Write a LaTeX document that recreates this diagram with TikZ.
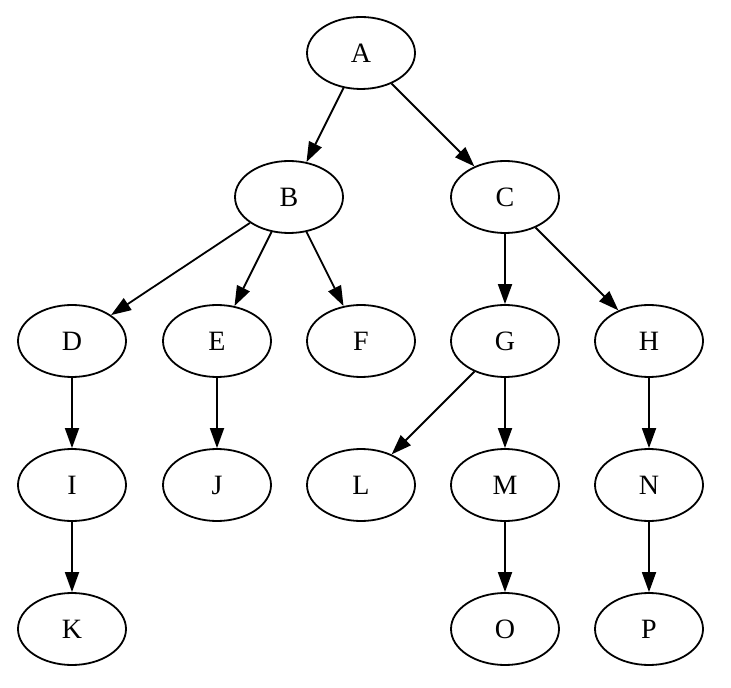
\documentclass[tikz,border=0pt]{standalone}
\usepackage{fontspec}
\setmainfont{Liberation Serif}
\usetikzlibrary{shapes.geometric,arrows.meta}
\begin{document}
\begin{tikzpicture}[x=0.5pt,y=-0.5pt,
  nd/.style={draw,ellipse,line width=0.9pt,minimum width=54pt,minimum height=36pt,inner sep=0pt,font=\fontsize{14pt}{16pt}\selectfont},
  edge/.style={draw,line width=0.9pt,-{Triangle[length=10pt,width=7pt]}}]
\useasboundingbox (0,0) rectangle (731,688);
\node[nd] (A) at (361,53) {A};
\node[nd] (B) at (289,197) {B};
\node[nd] (C) at (505,197) {C};
\node[nd] (D) at (72,341) {D};
\node[nd] (E) at (217,341) {E};
\node[nd] (F) at (361,341) {F};
\node[nd] (G) at (505,341) {G};
\node[nd] (H) at (649,341) {H};
\node[nd] (I) at (72,485) {I};
\node[nd] (J) at (217,485) {J};
\node[nd] (L) at (361,485) {L};
\node[nd] (M) at (505,485) {M};
\node[nd] (N) at (649,485) {N};
\node[nd] (K) at (72,629) {K};
\node[nd] (O) at (505,629) {O};
\node[nd] (P) at (649,629) {P};
\draw[edge] (A) -- (B);
\draw[edge] (A) -- (C);
\draw[edge] (B) -- (D);
\draw[edge] (B) -- (E);
\draw[edge] (B) -- (F);
\draw[edge] (C) -- (G);
\draw[edge] (C) -- (H);
\draw[edge] (D) -- (I);
\draw[edge] (E) -- (J);
\draw[edge] (G) -- (L);
\draw[edge] (G) -- (M);
\draw[edge] (H) -- (N);
\draw[edge] (I) -- (K);
\draw[edge] (M) -- (O);
\draw[edge] (N) -- (P);
\end{tikzpicture}
\end{document}
